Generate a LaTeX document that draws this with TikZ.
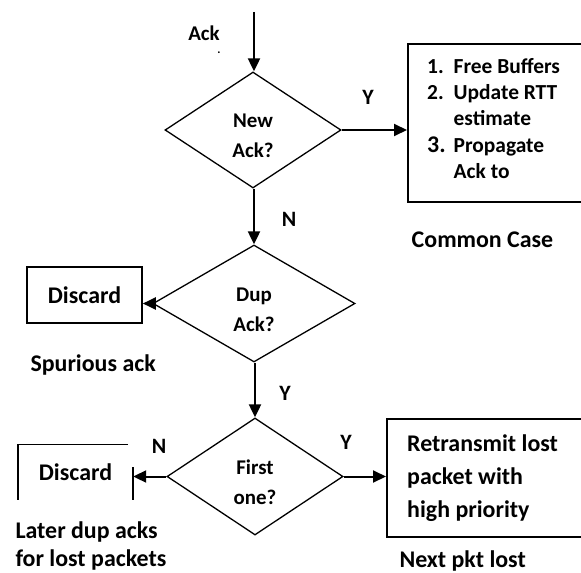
\documentclass[tikz,border=0pt]{standalone}
\usepackage{fontspec}
\setmainfont{Carlito}
\usetikzlibrary{arrows.meta,shapes.geometric}

\tikzset{
	decision/.style={draw, diamond, line width=1.3bp, minimum width=176bp, minimum height=116bp, inner sep=0pt},
	qtext/.style={align=center, yshift=-6bp, font=\fontsize{21}{30}\selectfont\bfseries},
	action/.style={draw, rectangle, line width=1.6bp, inner sep=0pt},
	tag/.style={font=\fontsize{24}{28}\selectfont\bfseries},
	yn/.style={font=\fontsize{22}{26}\selectfont\bfseries},
	flow/.style={line width=2bp, -{Triangle[length=13bp,width=12bp]}}
}

\begin{document}
\begin{tikzpicture}[x=1bp, y=-1bp]
		%%%%% START %%%%%
		\useasboundingbox (0, 0) rectangle (581, 573);
		
		% decisions
		\node[decision, label={[qtext]center:New\\Ack?}] (new) at (253, 130) {};
		\node[decision, minimum width=202bp, minimum height=117bp, label={[qtext]center:Dup\\Ack?}] (dup) at (254, 303.5) {};
		\node[decision, minimum height=117bp, label={[qtext]center:First\\one?}] (first) at (255, 476.5) {};
		
		% boxes
		\node[action, anchor=north west, minimum width=200bp, minimum height=158bp] (upd) at (407, 43) {};
		\node[anchor=north west, inner sep=0pt, font=\fontsize{21.5}{25}\selectfont\bfseries] (updtxt) at (427, 56) {%
			\begin{tabular}{@{}l@{\hspace{8bp}}l@{}}
			1. & Free Buffers\\[1bp]
			2. & Update RTT\\[1bp]
			   & estimate\\[2bp]
			{\fontsize{24}{26}\selectfont 3.} & Propagate\\[1bp]
			   & Ack to
			\end{tabular}};
		\node[action, tag, minimum width=115bp, minimum height=56bp] (disc1) at (84.5, 295) {Discard};
		\node[tag, minimum width=115bp, minimum height=55bp] (disc2) at (75.5, 472) {Discard};
		\draw[line width=1.6bp] (disc2.north west -| 128, 0) -- (disc2.north west) -- (disc2.south west);
		\draw[line width=1.6bp] (disc2.south east) -- ([yshift=33bp]disc2.south east);
		\node[action, anchor=north west, minimum width=200bp, minimum height=118bp] (retx) at (386, 418) {};
		\node[anchor=west, align=left, inner sep=0pt, font=\fontsize{24}{33}\selectfont\bfseries] (retxtxt) at (407, 478) {Retransmit lost\\packet with\\high priority};
		
		% labels
		\node[font=\fontsize{21}{24}\selectfont\bfseries] (ack) at (204, 33) {Ack};
		\node[font=\fontsize{12}{12}\selectfont\bfseries] (dot) at (219, 53) {.};
		\node[yn] (y1) at (368, 97) {Y};
		\node[yn] (n1) at (289, 219) {N};
		\node[yn] (y2) at (285, 393) {Y};
		\node[yn] (n2) at (159, 446) {N};
		\node[yn] (y3) at (346, 442) {Y};
		\node[tag] (common) at (482.5, 240) {Common Case};
		\node[tag, anchor=west] (spur) at (27, 365) {Spurious ack};
		\node[tag, anchor=west, align=left, font=\fontsize{24}{29}\selectfont\bfseries] (later) at (12, 546) {Later dup acks\\for lost packets};
		\node[tag, anchor=west] (nextlost) at (396, 561) {Next pkt lost};
		
		% connectors
		\coordinate (in) at (254, 12);
		\draw[flow] (in) -- (new.north -| in);
		\draw[flow] (new.east) -- (new.east -| upd.west);
		\draw[flow] (new.south -| dup.north) -- (dup.north);
		\draw[flow] (dup.west) -- (dup.west -| disc1.east);
		\draw[flow] (dup.south -| first.north) -- (first.north);
		\draw[flow] (first.west) -- (first.west -| disc2.east);
		\draw[flow] (first.east) -- (first.east -| retx.west);
		
		%%%%% END %%%%%
	\end{tikzpicture}
\end{document}
